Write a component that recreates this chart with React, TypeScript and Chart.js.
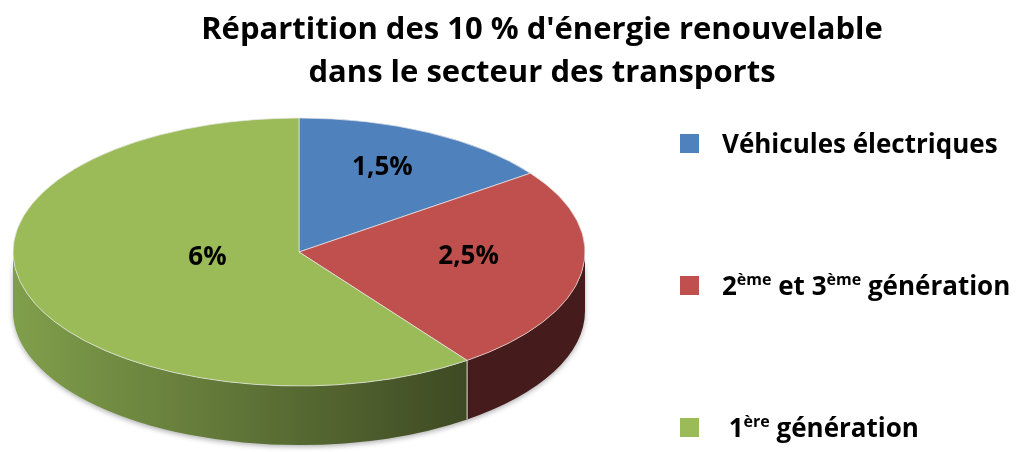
import React, { useEffect, useRef } from "react";
import { Chart, registerables } from "chart.js";

Chart.register(...registerables);

// ---- data ----
const categories = ["Véhicules électriques", "2ème et 3ème génération", "1ère génération"];
const values = [1.5, 2.5, 6];
const valueLabels = ["1,5%", "2,5%", "6%"];
const titleLines = ["Répartition des 10 % d'énergie renouvelable", "dans le secteur des transports"];
// legend text pieces: [text, isSuperscript]
const legendParts: [string, boolean][][] = [
  [["Véhicules électriques", false]],
  [["2", false], ["ème", true], [" et 3", false], ["ème", true], [" génération", false]],
  [[" 1", false], ["ère", true], [" génération", false]],
];

// ---- styles ----
const colors = ["#4f81bd", "#c0504d", "#9bbb59"];
const sideLight = ["#3d6594", "#5e2626", "#809f4b"];
const sideDark = ["#2b4a6e", "#461b1c", "#3b4621"];
const FONT = "'Open Sans', Lato, sans-serif";

const CX = 299;
const CY = 252;
const RX = 286;
const RY = 134;
const DEPTH = 59;

const pie3d = {
  id: "pie3d",
  beforeDatasetsDraw(chart: any) {
    const ctx = chart.ctx as CanvasRenderingContext2D;
    const arcs = chart.getDatasetMeta(0).data as any[];
    if (!arcs.length) return;
    // side walls (front half: angles 0..PI)
    ctx.save();
    arcs.forEach((arc: any, i: number) => {
      const a = Math.max(arc.startAngle, 0);
      const b = Math.min(arc.endAngle, Math.PI);
      if (b <= a) return;
      ctx.beginPath();
      ctx.ellipse(CX, CY, RX, RY, 0, a, b, false);
      ctx.lineTo(CX + RX * Math.cos(b), CY + RY * Math.sin(b) + DEPTH);
      ctx.ellipse(CX, CY + DEPTH, RX, RY, 0, b, a, true);
      ctx.closePath();
      const g = ctx.createLinearGradient(CX - RX, 0, CX + RX, 0);
      g.addColorStop(0, sideLight[i]);
      g.addColorStop(0.83, sideDark[i]);
      g.addColorStop(1, sideDark[i]);
      ctx.shadowColor = "rgba(0,0,0,0.3)";
      ctx.shadowBlur = 5;
      ctx.shadowOffsetY = 2;
      ctx.fillStyle = g;
      ctx.fill();
      ctx.shadowColor = "transparent";
      ctx.strokeStyle = "rgba(235,235,235,0.9)";
      ctx.lineWidth = 1;
      ctx.beginPath();
      if (arc.startAngle > 0 && arc.startAngle < Math.PI) {
        const x = CX + RX * Math.cos(a);
        const y = CY + RY * Math.sin(a);
        ctx.moveTo(x, y);
        ctx.lineTo(x, y + DEPTH);
      }
      ctx.stroke();
    });
    ctx.restore();
    // transform the round pie into the ellipse
    const a0 = arcs[0];
    const R = a0.outerRadius;
    ctx.save();
    ctx.translate(CX, CY);
    ctx.scale(RX / R, RY / R);
    ctx.translate(-a0.x, -a0.y);
  },
  afterDatasetsDraw(chart: any) {
    const ctx = chart.ctx as CanvasRenderingContext2D;
    ctx.restore();
    const arcs = chart.getDatasetMeta(0).data as any[];
    ctx.save();
    ctx.fillStyle = "#000";
    ctx.font = `bold 26px ${FONT}`;
    ctx.textAlign = "center";
    ctx.textBaseline = "middle";
    arcs.forEach((arc: any, i: number) => {
      const m = (arc.startAngle + arc.endAngle) / 2;
      const half = (arc.endAngle - arc.startAngle) / 2;
      // centroid of the sector
      const f = ((2 / 3) * Math.sin(half)) / half;
      ctx.fillText(valueLabels[i], CX + RX * f * Math.cos(m), CY + RY * f * Math.sin(m) - 8);
    });
    ctx.restore();
  },
  afterDraw(chart: any) {
    const ctx = chart.ctx as CanvasRenderingContext2D;
    ctx.save();
    ctx.textBaseline = "alphabetic";
    ctx.textAlign = "left";
    legendParts.forEach((parts, i) => {
      const base = 153 + i * 142;
      ctx.fillStyle = colors[i];
      ctx.fillRect(680, base - 19, 19, 19);
      ctx.fillStyle = "#000";
      let x = 722;
      parts.forEach(([t, sup]) => {
        ctx.font = sup ? `bold 16px ${FONT}` : `bold 26px ${FONT}`;
        ctx.fillText(t, x, sup ? base - 10 : base);
        x += ctx.measureText(t).width;
      });
    });
    ctx.restore();
  },
};

export default function App() {
  const ref = useRef<HTMLCanvasElement | null>(null);
  useEffect(() => {
    document.body.style.margin = "0";
    const chart = new Chart(ref.current as HTMLCanvasElement, {
      type: "pie",
      data: {
        labels: categories,
        datasets: [
          {
            data: values,
            backgroundColor: colors,
            borderColor: "#e8e8e8",
            borderWidth: 0.6,
            clip: false as any,
          },
        ],
      },
      options: {
        responsive: false,
        animation: false,
        layout: { padding: { left: 54, right: 0, top: 0, bottom: 0 } },
        plugins: {
          legend: { display: false },
          tooltip: { enabled: false },
          title: {
            display: true,
            text: titleLines,
            color: "#000",
            font: { family: FONT, size: 31, weight: "bold", lineHeight: 1.39 },
            padding: { top: 9, bottom: 0 },
          },
        },
      },
      plugins: [pie3d],
    });
    (document as any).fonts?.ready?.then(() => chart.update());
    return () => chart.destroy();
  }, []);
  return (
    <div style={{ width: 1030, height: 452 }}>
      <canvas ref={ref} width={1030} height={452} />
    </div>
  );
}
